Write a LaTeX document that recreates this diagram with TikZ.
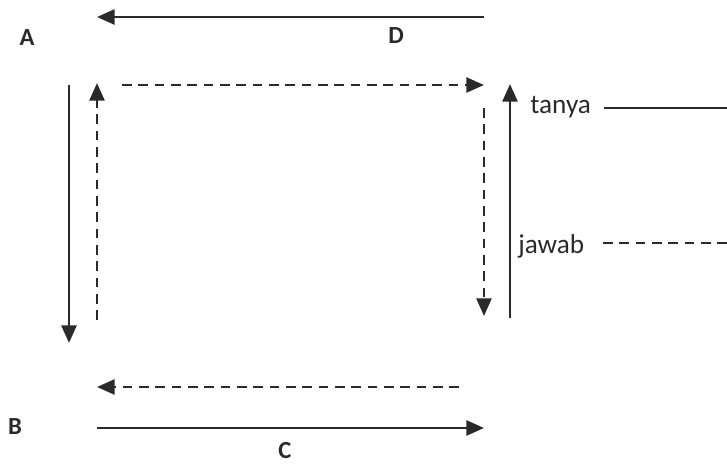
\documentclass[tikz,border=0pt]{standalone}
\usepackage{fontspec}
\setmainfont{Carlito}
\usetikzlibrary{arrows.meta,positioning}
\definecolor{ink}{HTML}{2A2A2A}
\tikzset{flow/.style={-{Triangle[length=10pt,width=8.5pt]}, line width=1.5pt, draw=ink},
         back/.style={flow, dash pattern=on 5.5pt off 3.8pt, line width=1.4pt},
         lbl/.style={font=\fontsize{14}{16}\selectfont\bfseries, text=ink, inner sep=0pt},
         word/.style={font=\fontsize{15.5}{18}\selectfont, text=ink, inner sep=0pt}
}

\begin{document}
\begin{tikzpicture}[x=0.02cm,y=-0.02cm]
      \useasboundingbox (0,0) rectangle (727,464);
      % labels
      \node[lbl] (A) at (27,38)  {A};
      \node[lbl] (B) at (15,427) {B};
      \node[lbl] (C) at (285,451) {C};
      \node[lbl] (D) at (396,36) {D};
      \node[word, anchor=base west] (tanya) at (530,113) {tanya};
      \node[word, anchor=base west] (jawab) at (518,253) {jawab};
      % end points
      \coordinate (d1) at (484,17);  \coordinate (d2) at (97,17);
      \coordinate (l1) at (69,85);   \coordinate (l2) at (69,343);
      \coordinate (u1) at (97,320);  \coordinate (u2) at (97,83);
      \coordinate (t1) at (122,85);  \coordinate (t2) at (484,85);
      \coordinate (r1) at (484,108); \coordinate (r2) at (484,316);
      \coordinate (s1) at (510,318); \coordinate (s2) at (510,84);
      \coordinate (b1) at (459,387); \coordinate (b2) at (97,387);
      \coordinate (c1) at (97,428);  \coordinate (c2) at (484,428);
      \coordinate (q1) at (604,108); \coordinate (q2) at (727,108);
      \coordinate (j1) at (603,243); \coordinate (j2) at (727,243);
      % solid arrows
      \draw[flow] (d1) -- (d2);
      \draw[flow] (l1) -- (l2);
      \draw[flow] (s1) -- (s2);
      \draw[flow] (c1) -- (c2);
      % dashed arrows
      \draw[back] (u1) -- (u2);
      \draw[back] (t1) -- (t2);
      \draw[back] (r1) -- (r2);
      \draw[back] (b1) -- (b2);
      % legend lines
      \draw[ink, line width=1.2pt] (q1) -- (q2);
      \draw[ink, line width=1.2pt, dash pattern=on 5.5pt off 3.8pt] (j1) -- (j2);
\end{tikzpicture}
\end{document}
